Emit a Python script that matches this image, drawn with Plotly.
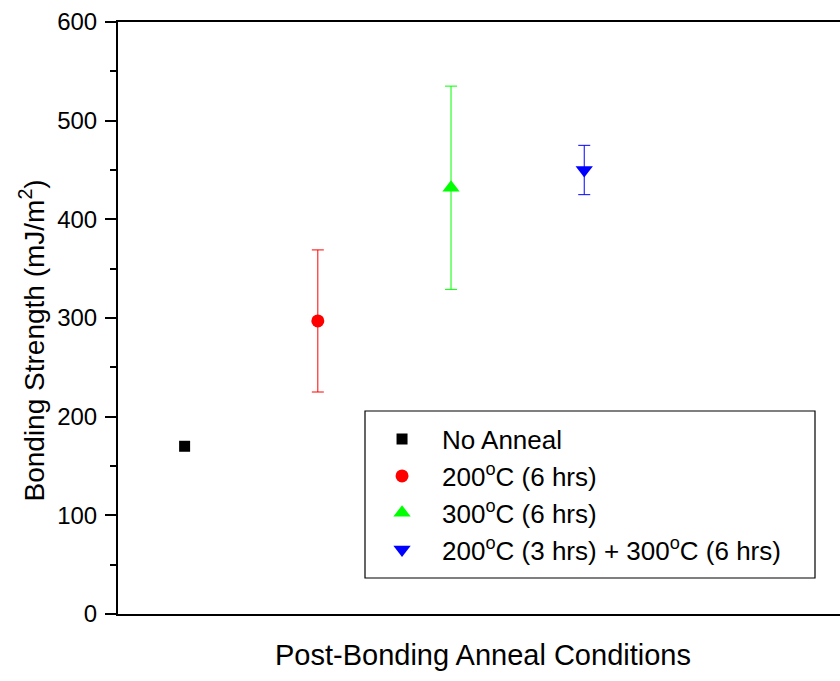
import plotly.graph_objects as go

# Data
conditions = ["No Anneal", "200<sup>o</sup>C (6 hrs)", "300<sup>o</sup>C (6 hrs)",
              "200<sup>o</sup>C (3 hrs) + 300<sup>o</sup>C (6 hrs)"]
x_pos = [1, 2, 3, 4]
strength = [170, 297, 432, 450]
error = [0, 72, 103, 25]
colors = ["#000000", "#ff0000", "#00ff00", "#0000ff"]
symbols = ["square", "circle", "triangle-up", "triangle-down"]
sizes = [11, 13, 15, 15]
y_ticks = [0, 100, 200, 300, 400, 500, 600]

FONT = "Liberation Sans, Arial, sans-serif"

fig = go.Figure()
for i in range(len(conditions)):
    fig.add_trace(go.Scatter(
        x=[x_pos[i]], y=[strength[i]], mode="markers", name=conditions[i],
        legendgroup=f"g{i}",
        marker=dict(symbol=symbols[i], color=colors[i], size=sizes[i], line=dict(width=0)),
        error_y=dict(type="data", array=[error[i]], visible=error[i] > 0,
                     color=colors[i], thickness=1, width=6),
    ))

fig.update_layout(
    width=840, height=681,
    margin=dict(l=118, r=0, t=22, b=67),
    paper_bgcolor="white", plot_bgcolor="white",
    font=dict(family=FONT, size=24, color="black"),
    showlegend=True,
    legend=dict(x=0.338, y=0.335, xanchor="left", yanchor="top",
                bgcolor="rgba(0,0,0,0)", borderwidth=0,
                font=dict(size=26, family=FONT), tracegroupgap=0, itemwidth=70),
    xaxis=dict(range=[0.5, 5.92], showline=True, linecolor="black", linewidth=2,
               mirror=True, showticklabels=False, ticks="", showgrid=False, zeroline=False),
    yaxis=dict(range=[0, 600], tickvals=y_ticks, showline=True, linecolor="black",
               linewidth=2, ticks="outside", ticklen=11, tickwidth=2, tickcolor="black",
               showgrid=False, zeroline=False, tickfont=dict(size=24),
               minor=dict(dtick=50, ticks="outside", ticklen=6, tickwidth=2, tickcolor="black"),
               ticklabelstandoff=3),
    shapes=[dict(type="rect", xref="paper", yref="paper",
                 x0=(365 - 118) / 722, x1=(815 - 118) / 722,
                 y0=(614 - 578) / 592, y1=(614 - 411) / 592,
                 line=dict(color="black", width=1.2), fillcolor="rgba(0,0,0,0)")],
    annotations=[
        dict(text="Bonding Strength (mJ/m<sup>2</sup>)", xref="paper", yref="paper",
             x=(33 - 118) / 722, y=0.462, xanchor="center", yanchor="middle",
             textangle=-90, showarrow=False, font=dict(size=28)),
        dict(text="Post-Bonding Anneal Conditions", xref="paper", yref="paper",
             x=(483 - 118) / 722, y=-(655 - 614) / 592, xanchor="center", yanchor="middle",
             showarrow=False, font=dict(size=29)),
    ],
)

fig.write_html("out.html", config={"displayModeBar": False},
               post_script="document.body.style.margin='0';")
